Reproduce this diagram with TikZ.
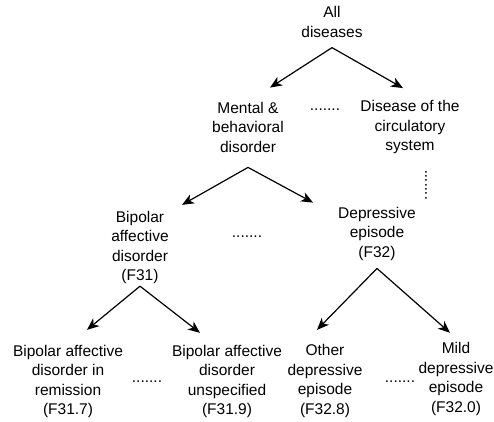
\documentclass[tikz,border=0pt]{standalone}
\usepackage{fontspec}
\setmainfont{Liberation Sans}
\usetikzlibrary{arrows.meta,positioning}

\begin{document}
\begin{tikzpicture}[x=1pt,y=-1pt,
    cat/.style={align=center,inner sep=0pt,font=\fontsize{15.5}{19.5}\selectfont},
    gap/.style={inner sep=0pt,font=\fontsize{15.5}{19.5}\selectfont},
    arr/.style={-{Stealth[length=12pt,width=10pt,inset=3.5pt]},line width=1.2pt}]
        \useasboundingbox (0,0) rectangle (494,421);
        % categories, level by level
        \node [cat] (all) at (332,22) {All\\diseases};
        \node [cat] (mental) at (248,127) {Mental \&\\behavioral\\disorder};
        \node [cat] (circ) at (410,127) {Disease of the\\circulatory\\system};
        \node [cat] (bipolar) at (140,247.5) {Bipolar\\affective\\disorder\\(F31)};
        \node [cat] (depr) at (377,233.5) {Depressive\\episode\\(F32)};
        \node [cat] (remis) at (68,381.5) {Bipolar affective\\disorder in\\remission\\(F31.7)};
        \node [cat] (unspec) at (227,381.5) {Bipolar affective\\disorder\\unspecified\\(F31.9)};
        \node [cat] (other) at (325,381) {Other\\depressive\\episode\\(F32.8)};
        \node [cat] (mild) at (456,379) {Mild\\depressive\\episode\\(F32.0)};

        % omitted siblings
        \node [gap] (g1) at (325,110) {.......};
        \node [gap, rotate=90] (g2) at (426,185) {.......};
        \node [gap] (g3) at (247,237) {.......};
        \node [gap] (g4) at (147,382) {.......};
        \node [gap] (g5) at (400,382) {.......};

        \draw [arr] ([yshift=-10pt]all.south) -- ([xshift=22pt,yshift=14pt]mental.north);
        \draw [arr] ([yshift=-10pt]all.south) -- ([xshift=-7pt,yshift=12pt]circ.north);
        \draw [arr] ([yshift=-15pt]mental.south) -- ([xshift=42pt,yshift=6pt]bipolar.north);
        \draw [arr] ([yshift=-15pt]mental.south) -- ([xshift=-64pt,yshift=4pt]depr.north);
        \draw [arr] ([yshift=-2pt]bipolar.south) -- ([xshift=19pt,yshift=15pt]remis.north);
        \draw [arr] ([yshift=-2pt]bipolar.south) -- ([xshift=-27pt,yshift=12pt]unspec.north);
        \draw [arr] ([yshift=-8pt]depr.south) -- ([xshift=-8pt,yshift=14.5pt]other.north);
        \draw [arr] ([yshift=-8pt]depr.south) -- ([xshift=-6pt,yshift=9.5pt]mild.north);
    \end{tikzpicture}
\end{document}
